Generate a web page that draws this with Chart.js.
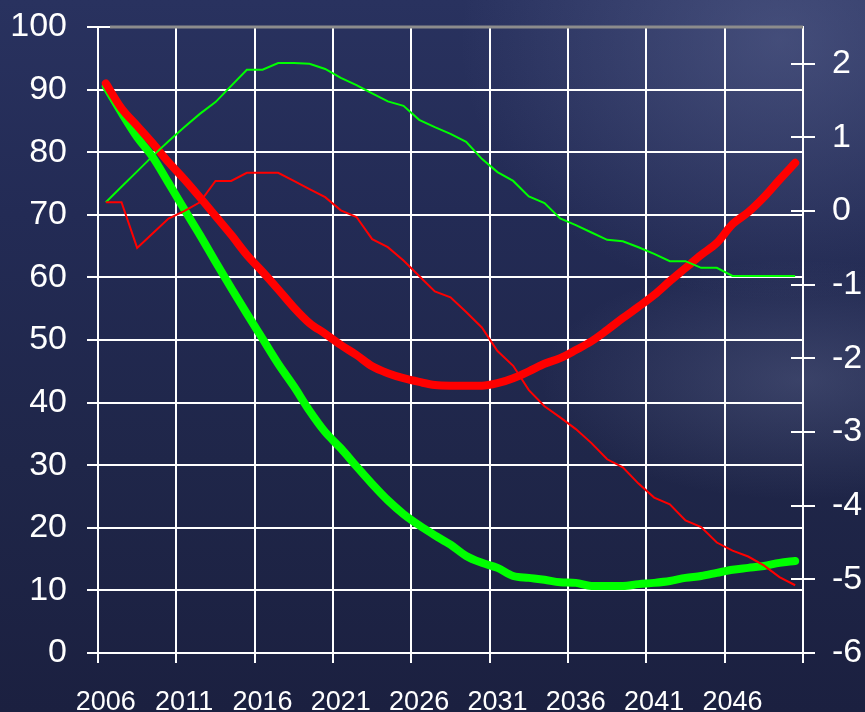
<!DOCTYPE html>
<html>
<head>
<meta charset="utf-8">
<script src="https://cdn.jsdelivr.net/npm/chart.js@4.4.1/dist/chart.umd.min.js"></script>
<style>
  html, body { margin: 0; padding: 0; }
  body {
    width: 865px; height: 712px; overflow: hidden;
    background:
      radial-gradient(ellipse 260px 120px at 800px 380px, rgba(150,160,200,0.22), rgba(150,160,200,0) 100%),
      radial-gradient(ellipse 320px 260px at 780px 40px, rgba(120,130,175,0.35), rgba(120,130,175,0) 100%),
      linear-gradient(to bottom, #29325f 0%, #232b55 30%, #1f2649 65%, #1b2040 100%);
  }
  .wrap { position: relative; width: 865px; height: 712px; }
</style>
</head>
<body>
<div class="wrap"><canvas id="chart"></canvas></div>
<script>
const years = [2006, 2007, 2008, 2009, 2010, 2011, 2012, 2013, 2014, 2015,
               2016, 2017, 2018, 2019, 2020, 2021, 2022, 2023, 2024, 2025,
               2026, 2027, 2028, 2029, 2030, 2031, 2032, 2033, 2034, 2035,
               2036, 2037, 2038, 2039, 2040, 2041, 2042, 2043, 2044, 2045,
               2046, 2047, 2048, 2049, 2050];

// left axis (0-100)
const redThick = [91, 87, 84.2, 81.4, 78.4, 75.7, 72.8, 69.8, 66.8, 63.6,
                  60.9, 58.1, 55.2, 52.7, 51, 49.2, 47.6, 45.8, 44.7, 43.9,
                  43.3, 42.8, 42.7, 42.7, 42.7, 43.1, 43.9, 45, 46.2, 47.1,
                  48.4, 49.8, 51.6, 53.5, 55.3, 57.2, 59.4, 61.5, 63.6, 65.5,
                  68.5, 70.4, 72.8, 75.6, 78.3];
const greenThick = [90.5, 86.3, 82.4, 79.2, 75.1, 70.9, 66.8, 62.5, 58.3, 54.2,
                    50.2, 46.2, 42.6, 38.7, 35.3, 32.7, 29.8, 27, 24.4, 22.2,
                    20.4, 18.8, 17.3, 15.5, 14.4, 13.6, 12.3, 12, 11.7, 11.3,
                    11.2, 10.7, 10.7, 10.7, 11, 11.2, 11.5, 12, 12.3, 12.8,
                    13.3, 13.6, 13.9, 14.4, 14.7];

// right axis (-6 to 2.5)
const greenThin = [0.12, 0.33, 0.54, 0.75, 0.95, 1.14, 1.32, 1.48, 1.7, 1.92,
                   1.92, 2.01, 2.01, 2.0, 1.93, 1.81, 1.71, 1.6, 1.49, 1.43,
                   1.24, 1.14, 1.05, 0.94, 0.71, 0.53, 0.41, 0.2, 0.11, -0.1,
                   -0.19, -0.29, -0.39, -0.41, -0.49, -0.58, -0.68, -0.68, -0.77, -0.77,
                   -0.88, -0.88, -0.88, -0.88, -0.88];
const redThin = [0.12, 0.12, -0.5, -0.3, -0.1, 0.0, 0.12, 0.41, 0.41, 0.52,
                 0.52, 0.52, 0.41, 0.3, 0.19, 0.01, -0.08, -0.38, -0.49, -0.67,
                 -0.88, -1.09, -1.17, -1.37, -1.58, -1.9, -2.1, -2.43, -2.65, -2.8,
                 -2.96, -3.15, -3.37, -3.48, -3.7, -3.89, -3.98, -4.2, -4.29, -4.5,
                 -4.61, -4.69, -4.81, -4.97, -5.08];

const xLabels = [2006, 2011, 2016, 2021, 2026, 2031, 2036, 2041, 2046];
const leftTicks = [0, 10, 20, 30, 40, 50, 60, 70, 80, 90, 100];
const rightTicks = [-6, -5, -4, -3, -2, -1, 0, 1, 2];

const pts = arr => arr.map((v, i) => ({ x: years[i], y: v }));

// tick boundaries sit half a year before each labelled year, plus the far edge
const xBounds = xLabels.map(y => y - 0.5).concat([years[years.length - 1] + 0.5]);

const tickFont = { family: "'Liberation Sans', Arial, sans-serif", size: 34 };

// fixed axis boxes, no extra label padding around the plot
const fitBox = (w, h) => s => {
  if (w) s.width = w;
  if (h) s.height = h;
  s.paddingTop = 0; s.paddingBottom = 0; s.paddingLeft = 0; s.paddingRight = 0;
};

const extras = {
  id: "extras",
  beforeDatasetsDraw(chart) {
    const { ctx, chartArea } = chart;
    ctx.save();
    // grey top border of the plot area
    ctx.strokeStyle = "#8c8c8c";
    ctx.lineWidth = 3;
    ctx.beginPath();
    ctx.moveTo(chartArea.left + 12, chartArea.top);
    ctx.lineTo(chartArea.right, chartArea.top);
    ctx.stroke();
    // inner half of the right axis tick marks
    const yr = chart.scales.yR;
    ctx.strokeStyle = "#ffffff";
    ctx.lineWidth = 2;
    rightTicks.forEach(t => {
      const py = Math.round(yr.getPixelForValue(t));
      ctx.beginPath();
      ctx.moveTo(chartArea.right - 12, py);
      ctx.lineTo(chartArea.right, py);
      ctx.stroke();
    });
    ctx.restore();
  }
};

new Chart(document.getElementById("chart"), {
  type: "line",
  data: {
    datasets: [
      { label: "redThin", data: pts(redThin), yAxisID: "yR",
        borderColor: "#ff0000", borderWidth: 2, pointRadius: 0, tension: 0 },
      { label: "greenThin", data: pts(greenThin), yAxisID: "yR",
        borderColor: "#00ff00", borderWidth: 2, pointRadius: 0, tension: 0 },
      { label: "redThick", data: pts(redThick), yAxisID: "y",
        borderColor: "#ff0000", borderWidth: 8, pointRadius: 0,
        cubicInterpolationMode: "monotone",
        borderCapStyle: "round", borderJoinStyle: "round" },
      { label: "greenThick", data: pts(greenThick), yAxisID: "y",
        borderColor: "#00ff00", borderWidth: 8, pointRadius: 0,
        cubicInterpolationMode: "monotone",
        borderCapStyle: "round", borderJoinStyle: "round" }
    ]
  },
  options: {
    responsive: true,
    maintainAspectRatio: false,
    animation: false,
    layout: { padding: { top: 27, left: 0, right: 0, bottom: 0 } },
    plugins: { legend: { display: false }, tooltip: { enabled: false } },
    scales: {
      x: {
        type: "linear",
        min: xBounds[0],
        max: xBounds[xBounds.length - 1],
        afterBuildTicks: s => { s.ticks = xBounds.map(v => ({ value: v })); },
        afterFit: fitBox(0, 59),
        grid: { color: "#ffffff", lineWidth: 2, tickLength: 10 },
        border: { display: true, color: "#ffffff", width: 2 },
        ticks: {
          color: "#ffffff",
          font: { family: tickFont.family, size: 27 },
          autoSkip: false,
          maxRotation: 0,
          padding: 23,
          labelOffset: 7.8,
          callback: v => xLabels.includes(v + 0.5) ? String(v + 0.5) : ""
        }
      },
      y: {
        position: "left",
        min: 0,
        max: 100,
        afterBuildTicks: s => { s.ticks = leftTicks.map(v => ({ value: v })); },
        afterFit: fitBox(98, 0),
        grid: { color: "#ffffff", lineWidth: 2, tickLength: 11 },
        border: { display: true, color: "#ffffff", width: 2 },
        ticks: { color: "#ffffff", font: tickFont, padding: 20 }
      },
      yR: {
        position: "right",
        min: -6,
        max: 2.5,
        afterBuildTicks: s => { s.ticks = rightTicks.map(v => ({ value: v })); },
        afterFit: fitBox(62, 0),
        grid: { drawOnChartArea: false, color: "#ffffff", lineWidth: 2, tickLength: 12 },
        border: { display: true, color: "#ffffff", width: 2 },
        ticks: { color: "#ffffff", font: tickFont, padding: 17 }
      }
    }
  },
  plugins: [extras]
});
</script>
</body>
</html>
